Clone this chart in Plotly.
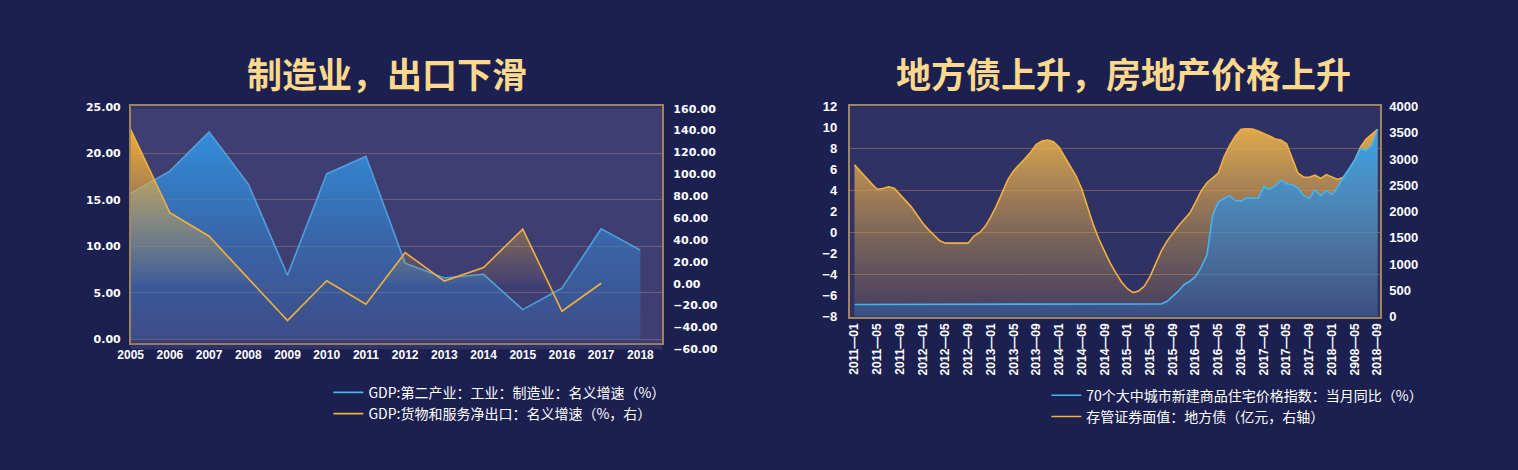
import pandas as pd
from plotly import graph_objects as chart

W, H = 1518, 470

# left chart, yearly
years = [2005, 2006, 2007, 2008, 2009, 2010, 2011, 2012, 2013, 2014, 2015, 2016, 2017, 2018]
manufacturing_growth = [15.7, 18.1, 22.3, 16.7, 6.9, 17.8, 19.7, 8.2, 6.6, 7.0, 3.2, 5.5, 11.9, 9.6]
net_export_growth = [140.8, 64.8, 43.4, 5.0, -33.8, 2.7, -18.8, 28.4, 2.4, 14.8, 49.9, -25.2, 0.4]

# right chart, monthly 2011-01 .. 2018-09
months = pd.date_range('2011-01-01', '2018-09-01', freq='MS').strftime('%Y-%m').tolist()
month_ticks = ['2011—01', '2011—05', '2011—09', '2012—01', '2012—05', '2012—09',
	'2013—01', '2013—05', '2013—09', '2014—01', '2014—05', '2014—09',
	'2015—01', '2015—05', '2015—09', '2016—01', '2016—05', '2016—09',
	'2017—01', '2017—05', '2017—09', '2018—01', '2908—05', '2018—09']

# orange curve, left axis (%)
house_price_yoy = [
	6.44, 5.89, 5.27, 4.66, 4.13, 4.20, 4.35, 4.23, 3.67, 3.06, 2.45, 1.68,
	0.91, 0.29, -0.26, -0.78, -1.00, -1.00, -0.95, -0.95, -1.00, -0.32, -0.01, 0.60,
	1.52, 2.60, 3.83, 5.06, 5.89, 6.44, 7.05, 7.67, 8.40, 8.70, 8.80, 8.65,
	8.13, 7.20, 6.29, 5.36, 4.13, 2.45, 0.76, -0.63, -1.86, -2.93, -3.85, -4.71,
	-5.33, -5.70, -5.54, -5.08, -4.16, -2.93, -1.70, -0.78, -0.01, 0.66, 1.28, 1.89,
	2.90, 4.00, 4.75, 5.21, 5.67, 7.20, 8.30, 9.20, 9.82, 9.88, 9.85, 9.67,
	9.45, 9.20, 8.90, 8.80, 8.44, 7.05, 5.67, 5.27, 5.27, 5.46, 5.15, 5.52,
	5.27, 5.06, 5.27, 5.98, 6.90, 8.13, 8.90, 9.36, 9.82]

# blue curve, right axis (亿元)
local_bond = [
	233, 233, 233, 233, 233, 233, 233, 233, 233, 233, 233, 233,
	233, 233, 233, 233, 233, 233, 233, 233, 233, 233, 233, 233,
	233, 233, 233, 233, 233, 233, 233, 233, 233, 233, 233, 233,
	233, 233, 233, 233, 233, 233, 233, 233, 233, 233, 233, 233,
	233, 233, 233, 233, 233, 233, 246, 295, 387, 492, 614, 676,
	768, 945, 1180, 1930, 2181, 2250, 2295, 2212, 2200, 2261, 2255, 2255,
	2470, 2427, 2489, 2593, 2532, 2507, 2446, 2304, 2249, 2409, 2304, 2396,
	2323, 2470, 2654, 2826, 2980, 3195, 3164, 3256, 3564]

left_names = ['GDP:第二产业：工业：制造业：名义增速（%）', 'GDP:货物和服务净出口：名义增速（%，右）']
right_names = ['70个大中城市新建商品住宅价格指数：当月同比（%）', '存管证券面值：地方债（亿元，右轴）']

ORANGE = '#f3b13c'
BLUE = '#45b4f2'
BORDER = 'rgba(205,165,95,0.75)'
GRID = 'rgba(205,165,95,0.38)'
tick_font = dict(family='Liberation Sans', size=12, color='white', weight='bold')
num_font = dict(family='DejaVu Sans', size=11, color='white', weight='bold')
legend_font = dict(family='Noto Sans CJK SC', size=14, color='white')

def px(v):
	return v / W

def py(v):
	return 1 - v / H

right_floor = [-8] * len(months)

fig = chart.Figure()

fig.add_trace(chart.Scatter(x=years, y=manufacturing_growth, mode='lines', showlegend=False,
	line=dict(color=BLUE, width=1.6), fill='tozeroy',
	fillgradient=dict(type='vertical', start=0, stop=22,
		colorscale=[[0, 'rgba(40,110,190,0.3)'], [1, 'rgba(30,160,245,0.95)']]),
	xaxis='x', yaxis='y'))
fig.add_trace(chart.Scatter(x=years[:len(net_export_growth)], y=net_export_growth, mode='lines', showlegend=False,
	line=dict(color=ORANGE, width=1.6), fill='tozeroy',
	fillgradient=dict(type='vertical', start=0, stop=140,
		colorscale=[[0, 'rgba(230,170,60,0.0)'], [0.4, 'rgba(235,172,60,0.4)'], [1, 'rgba(248,176,50,0.95)']]),
	xaxis='x', yaxis='y2'))

fig.add_trace(chart.Scatter(x=months, y=right_floor, mode='lines', line=dict(width=0),
	showlegend=False, hoverinfo='skip', xaxis='x3', yaxis='y3'))
fig.add_trace(chart.Scatter(x=months, y=house_price_yoy, mode='lines', showlegend=False,
	line=dict(color=ORANGE, width=1.6), fill='tonexty',
	fillgradient=dict(type='vertical', start=-8, stop=10,
		colorscale=[[0, 'rgba(180,140,80,0.12)'], [1, 'rgba(240,180,75,0.92)']]),
	xaxis='x3', yaxis='y3'))
fig.add_trace(chart.Scatter(x=months, y=local_bond, mode='lines', showlegend=False,
	line=dict(color=BLUE, width=1.6), fill='tozeroy',
	fillgradient=dict(type='vertical', start=0, stop=3600,
		colorscale=[[0, 'rgba(40,110,200,0.3)'], [1, 'rgba(45,160,240,0.95)']]),
	xaxis='x3', yaxis='y4'))

# legend entries as plain lines (legend colours are swapped in the source picture, kept as shown)
for name, color in zip(left_names, [BLUE, ORANGE]):
	fig.add_trace(chart.Scatter(x=[None], y=[None], mode='lines', name=name,
		line=dict(color=color, width=1.6), xaxis='x', yaxis='y', legend='legend'))
for name, color in zip(right_names, [BLUE, ORANGE]):
	fig.add_trace(chart.Scatter(x=[None], y=[None], mode='lines', name=name,
		line=dict(color=color, width=1.6), xaxis='x3', yaxis='y5', legend='legend2'))

fig.update_layout(
	width=W, height=H,
	margin=dict(l=0, r=0, t=0, b=0),
	paper_bgcolor='#1b2050',
	plot_bgcolor='rgba(110,100,160,0.26)',
	hovermode=False,
	xaxis=dict(domain=[px(119), px(656.7)], range=[2005, 2018.56], tickvals=years,
		showline=True, mirror=True, linecolor=BORDER, linewidth=1.5,
		showgrid=False, zeroline=False, tickfont=tick_font, anchor='y'),
	yaxis=dict(domain=[py(346.7), py(102.3)], range=[-0.35, 25.1], dtick=5, tickformat='.2f',
		showline=True, mirror=True, linecolor=BORDER, linewidth=1.5,
		showgrid=True, gridcolor=GRID, zeroline=False, tickfont=num_font,
		ticklabelstandoff=6, anchor='x'),
	yaxis2=dict(domain=[py(353.6), py(105)], range=[-60, 160], dtick=20, tickformat='.2f',
		side='right', anchor='x', showline=False, showgrid=False, zeroline=False,
		tickfont=num_font, ticklabelstandoff=10),
	xaxis3=dict(domain=[px(846), px(1382.7)], type='category', range=[-0.87, 92.47],
		tickvals=months[::4], ticktext=month_ticks, tickangle=-90,
		showline=True, mirror=True, linecolor=BORDER, linewidth=1.5,
		showgrid=False, zeroline=False, tickfont=tick_font, anchor='y3'),
	yaxis3=dict(domain=[py(320), py(102.7)], range=[-8, 12], dtick=2,
		showline=True, mirror=True, linecolor=BORDER, linewidth=1.5,
		showgrid=False, zeroline=False, tickfont=dict(tick_font, size=13),
		ticklabelstandoff=8, anchor='x3'),
	yaxis4=dict(overlaying='y3', side='right', range=[0, 4000], dtick=500,
		showgrid=False, zeroline=False, tickfont=dict(tick_font, size=13),
		ticklabelstandoff=8, anchor='x3'),
	yaxis5=dict(overlaying='y3', range=[-8, 12], dtick=4, showgrid=True, gridcolor=GRID,
		showticklabels=False, zeroline=False, anchor='x3'),
	legend=dict(x=px(319), y=py(382), xanchor='left', yanchor='top', traceorder='normal',
		bgcolor='rgba(0,0,0,0)', tracegroupgap=0, font=legend_font),
	legend2=dict(x=px(1045), y=py(385), xanchor='left', yanchor='top', traceorder='normal',
		bgcolor='rgba(0,0,0,0)', tracegroupgap=0, font=legend_font),
)

title_font = dict(family='Noto Sans CJK SC', size=35, color='#fcd98c', weight='bold')
fig.add_annotation(text='制造业，出口下滑', x=px(378), y=py(68), xref='paper', yref='paper',
	showarrow=False, font=title_font, xanchor='center', yanchor='middle')
fig.add_annotation(text='地方债上升，房地产价格上升', x=px(1123), y=py(68), xref='paper', yref='paper',
	showarrow=False, font=title_font, xanchor='center', yanchor='middle')

fig.write_html("out.html", config={'displayModeBar': False},
	post_script="document.body.style.margin='0px';")
